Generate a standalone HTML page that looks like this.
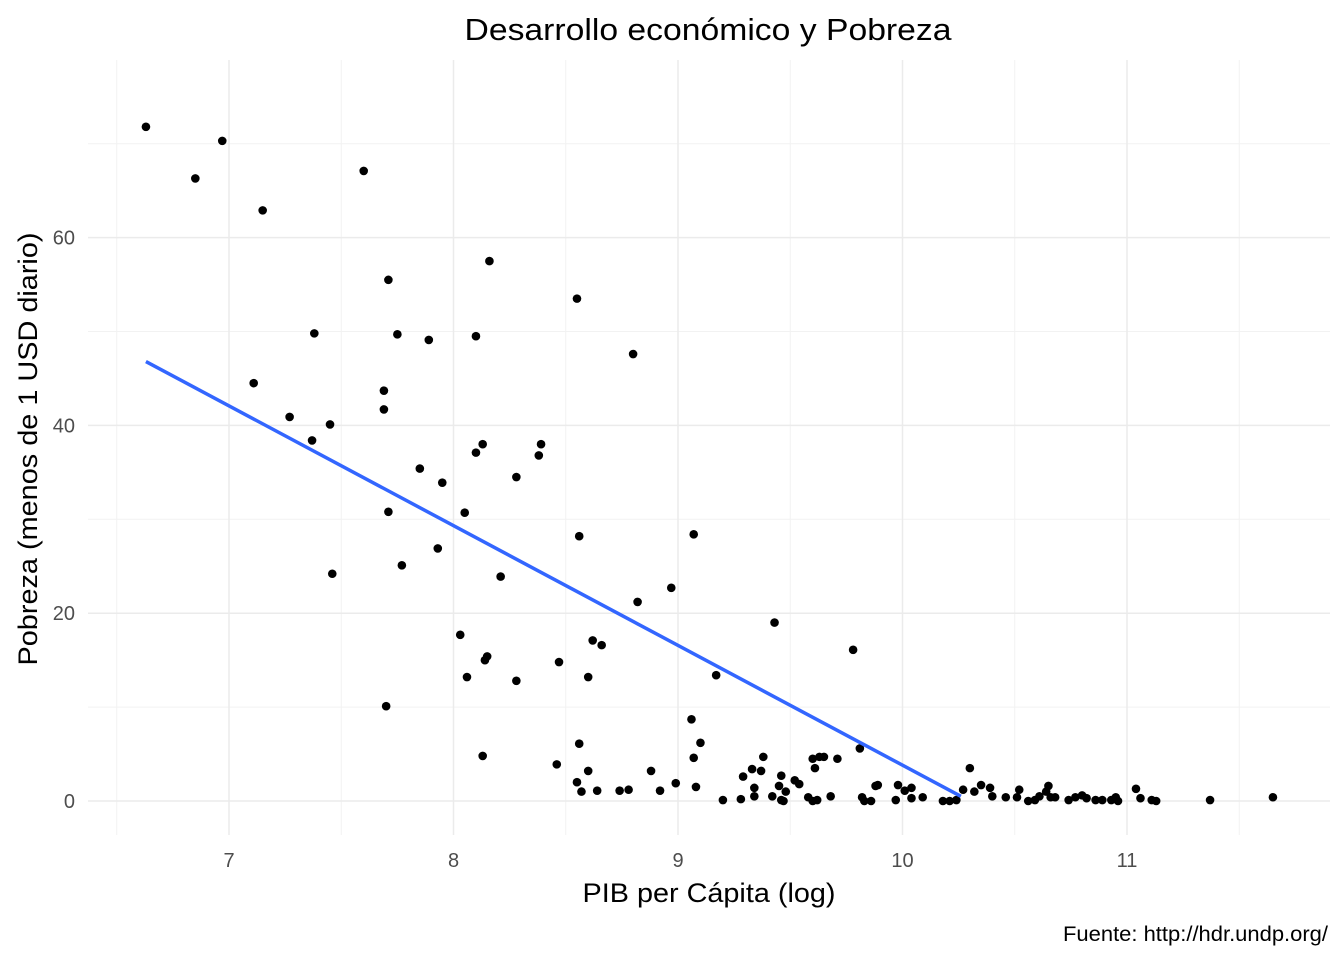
<!DOCTYPE html>
<html><head><meta charset="utf-8"><style>
body{margin:0;background:#fff;}
svg text{font-family:"Liberation Sans",Arial,sans-serif;}
</style></head><body>
<svg id="chart" width="1344" height="960" xmlns="http://www.w3.org/2000/svg">
<rect width="1344" height="960" fill="#fff"/>
<g id="grid"></g><g id="marks"></g><g id="axes"></g>
<text x="708" y="40" font-size="31" text-anchor="middle" fill="#000" textLength="487" lengthAdjust="spacingAndGlyphs">Desarrollo económico y Pobreza</text>
<text x="709" y="902" font-size="27" text-anchor="middle" fill="#000" textLength="253" lengthAdjust="spacingAndGlyphs">PIB per Cápita (log)</text>
<text transform="translate(37,449) rotate(-90)" font-size="27" text-anchor="middle" fill="#000" textLength="433" lengthAdjust="spacingAndGlyphs">Pobreza (menos de 1 USD diario)</text>
<text x="1328" y="941" font-size="21" text-anchor="end" fill="#000" textLength="265" lengthAdjust="spacingAndGlyphs">Fuente: http://hdr.undp.org/</text>
</svg>
<script>
const xVals=[6.63,6.85,6.97,7.15,7.11,7.27,7.37,7.38,7.45,7.46,7.60,7.71,7.69,7.69,7.71,7.70,7.75,7.77,7.85,7.89,7.93,7.95,8.03,8.05,8.06,8.10,8.10,8.13,8.16,8.14,8.15,8.13,8.21,8.28,8.28,8.38,8.39,8.46,8.47,8.55,8.56,8.56,8.55,8.57,8.60,8.60,8.62,8.66,8.64,8.74,8.78,8.80,8.82,8.88,8.92,8.97,8.99,9.07,9.06,9.07,9.10,9.08,9.17,9.20,9.28,9.29,9.33,9.34,9.34,9.37,9.38,9.42,9.43,9.45,9.46,9.47,9.46,9.48,9.52,9.54,9.58,9.60,9.61,9.60,9.62,9.63,9.65,9.68,9.71,9.78,9.81,9.82,9.83,9.86,9.88,9.89,9.97,9.98,10.01,10.04,10.04,10.09,10.18,10.21,10.24,10.27,10.30,10.32,10.35,10.39,10.40,10.46,10.51,10.52,10.56,10.59,10.61,10.64,10.65,10.66,10.68,10.74,10.77,10.80,10.82,10.86,10.89,10.93,10.95,10.96,11.04,11.06,11.11,11.13,11.37,11.65];
const yVals=[71.8,66.3,70.3,62.9,44.5,40.9,38.4,49.8,40.1,24.2,67.1,55.5,43.7,41.7,30.8,10.1,49.7,25.1,35.4,49.1,26.9,33.9,17.7,30.7,13.2,49.5,37.1,38.0,57.5,15.0,15.4,4.8,23.9,34.5,12.8,36.8,38.0,3.9,14.8,53.5,28.2,6.1,2.0,1.0,13.2,3.2,17.1,16.6,1.1,1.1,1.2,47.6,21.2,3.2,1.1,22.7,1.9,28.4,8.7,4.6,6.2,1.5,13.4,0.1,0.2,2.6,3.4,1.4,0.5,3.2,4.7,0.5,19.0,1.6,0.1,0,2.7,1.0,2.2,1.8,0.4,4.5,3.5,0,0.1,4.7,4.7,0.5,4.5,16.1,5.6,0.4,0,0,1.6,1.7,0.1,1.7,1.1,0.3,1.4,0.4,0,0,0.1,1.2,3.5,1.0,1.7,1.4,0.5,0.4,0.4,1.2,0,0.1,0.5,1.0,1.6,0.4,0.4,0.1,0.4,0.6,0.3,0.1,0.1,0.1,0.4,0,1.3,0.3,0.1,0,0.1,0.4];
const lineX=[6.63,10.26];
const lineY=[46.8,0.5];
const xTicks=[7,8,9,10,11];
const xMinor=[6.5,7.5,8.5,9.5,10.5,11.5];
const yTicks=[0,20,40,60];
const yMinor=[10,30,50,70];
const L=88,R=1330,T=60,B=835;
function sx(v){return 229+(v-7)*224.5;}
function sy(v){return 801-v*9.39;}
const NS="http://www.w3.org/2000/svg";
function mk(tag,attrs,parent){const e=document.createElementNS(NS,tag);for(const k in attrs)e.setAttribute(k,attrs[k]);parent.appendChild(e);return e;}
const grid=document.getElementById('grid'),marks=document.getElementById('marks'),axes=document.getElementById('axes');
xMinor.forEach(v=>{const e=mk('line',{x1:sx(v),x2:sx(v),y1:T,y2:B,stroke:'#f2f2f2','stroke-width':1},grid);

});
yMinor.forEach(v=>{const e=mk('line',{x1:L,x2:R,y1:sy(v),y2:sy(v),stroke:'#f2f2f2','stroke-width':1},grid);

});
xTicks.forEach(v=>{const e=mk('line',{x1:sx(v),x2:sx(v),y1:T,y2:B,stroke:'#ebebeb','stroke-width':1.5},grid);


const t=mk('text',{x:sx(v),y:B+32,'font-size':20,'text-anchor':'middle',fill:'#4d4d4d'},axes);t.textContent=v;

});
yTicks.forEach(v=>{const e=mk('line',{x1:L,x2:R,y1:sy(v),y2:sy(v),stroke:'#ebebeb','stroke-width':1.5},grid);


const t=mk('text',{x:75,y:sy(v)+7,'font-size':20,'text-anchor':'end',fill:'#4d4d4d'},axes);t.textContent=v;

});
xVals.forEach((x,i)=>{const c=mk('circle',{cx:sx(x),cy:sy(yVals[i]),r:4.3,fill:'#000'},marks);

});
const ln=mk('line',{x1:sx(lineX[0]),y1:sy(lineY[0]),x2:sx(lineX[1]),y2:sy(lineY[1]),stroke:'#3366FF','stroke-width':3.5},marks);


</script>
</body></html>
